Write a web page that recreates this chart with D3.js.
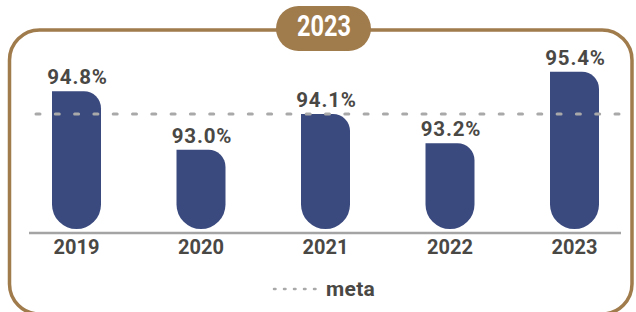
<!DOCTYPE html>
<html>
<head>
<meta charset="utf-8">
<script src="https://cdn.jsdelivr.net/npm/d3@7"></script>
<style>
  html, body { margin: 0; padding: 0; background: #fff; }
  svg { display: block; }
  .lbl { font-family: Roboto, "Liberation Sans", sans-serif; font-weight: 700; fill: #4a4845; }
</style>
</head>
<body>
<svg id="chart" width="636" height="312"></svg>
<script>
// data
const years  = ["2019", "2020", "2021", "2022", "2023"];
const values = [94.8, 93.0, 94.1, 93.2, 95.4];
const meta   = 94.1;
const title  = "2023";
const legendLabel = "meta";

const navy  = "#3a4a7f";
const brown = "#a07b4c";
const grey  = "#a9a9a9";

const svg = d3.select("#chart");

// outer frame
svg.append("rect")
  .attr("x", 9.5).attr("y", 30)
  .attr("width", 622.5).attr("height", 284)
  .attr("rx", 30)
  .attr("fill", "none")
  .attr("stroke", brown)
  .attr("stroke-width", 3.5);

const x = d3.scalePoint().domain(years).range([14.25, 636.75]).padding(0.5);
const y = d3.scaleLinear().domain([90.56, 95.5]).range([229, 68.45]);
const barW = 49;
const rTop = 17;

// bar: square top-left, rounded top-right, fully rounded bottom
function barPath(cx, top, bottom) {
  const x0 = cx - barW / 2, x1 = cx + barW / 2, rb = barW / 2;
  return `M${x0},${top} H${x1 - rTop} A${rTop},${rTop} 0 0 1 ${x1},${top + rTop}` +
         ` V${bottom - rb} A${rb},${rb} 0 0 1 ${x0},${bottom - rb} Z`;
}

// baseline
svg.append("line")
  .attr("x1", 29).attr("x2", 621)
  .attr("y1", 233).attr("y2", 233)
  .attr("stroke", "#a4a4a4")
  .attr("stroke-width", 2.5);

svg.selectAll("path.bar")
  .data(years)
  .join("path")
  .attr("class", "bar")
  .attr("d", (d, i) => barPath(x(d), y(values[i]), y.range()[0]))
  .attr("fill", navy);

// value labels
svg.selectAll("text.val")
  .data(years)
  .join("text")
  .attr("class", "lbl val")
  .attr("x", d => x(d) + 1)
  .attr("y", (d, i) => y(values[i]) - 7)
  .attr("text-anchor", "middle")
  .attr("font-size", 20.5)
  .attr("letter-spacing", 0.8)
  .text((d, i) => values[i].toFixed(1) + "%");

// year labels
svg.selectAll("text.yr")
  .data(years)
  .join("text")
  .attr("class", "lbl yr")
  .attr("x", d => x(d))
  .attr("y", 254)
  .attr("text-anchor", "middle")
  .attr("font-size", 20)
  .text(d => d);

// meta dashed line (on top of bars)
svg.append("line")
  .attr("x1", 36).attr("x2", 628)
  .attr("y1", y(meta)).attr("y2", y(meta))
  .attr("stroke", grey)
  .attr("stroke-width", 3)
  .attr("stroke-linecap", "round")
  .attr("stroke-dasharray", "4 15.3");

// legend
svg.append("line")
  .attr("x1", 274).attr("x2", 322)
  .attr("y1", 289).attr("y2", 289)
  .attr("stroke", grey)
  .attr("stroke-width", 2.5)
  .attr("stroke-linecap", "round")
  .attr("stroke-dasharray", "1.5 8.5");
svg.append("text")
  .attr("class", "lbl")
  .attr("x", 326).attr("y", 296)
  .attr("font-size", 21)
  .attr("letter-spacing", 0.3)
  .text(legendLabel);

// title pill
const pill = svg.append("g");
pill.append("rect")
  .attr("x", 276).attr("y", 6)
  .attr("width", 95).attr("height", 45)
  .attr("rx", 22.5)
  .attr("fill", brown);
pill.append("text")
  .attr("x", 297).attr("y", 36)
  .attr("font-family", "Roboto, sans-serif")
  .attr("font-weight", 700)
  .attr("font-size", 30)
  .attr("textLength", 54)
  .attr("lengthAdjust", "spacingAndGlyphs")
  .attr("fill", "#fff")
  .text(title);
</script>
</body>
</html>
